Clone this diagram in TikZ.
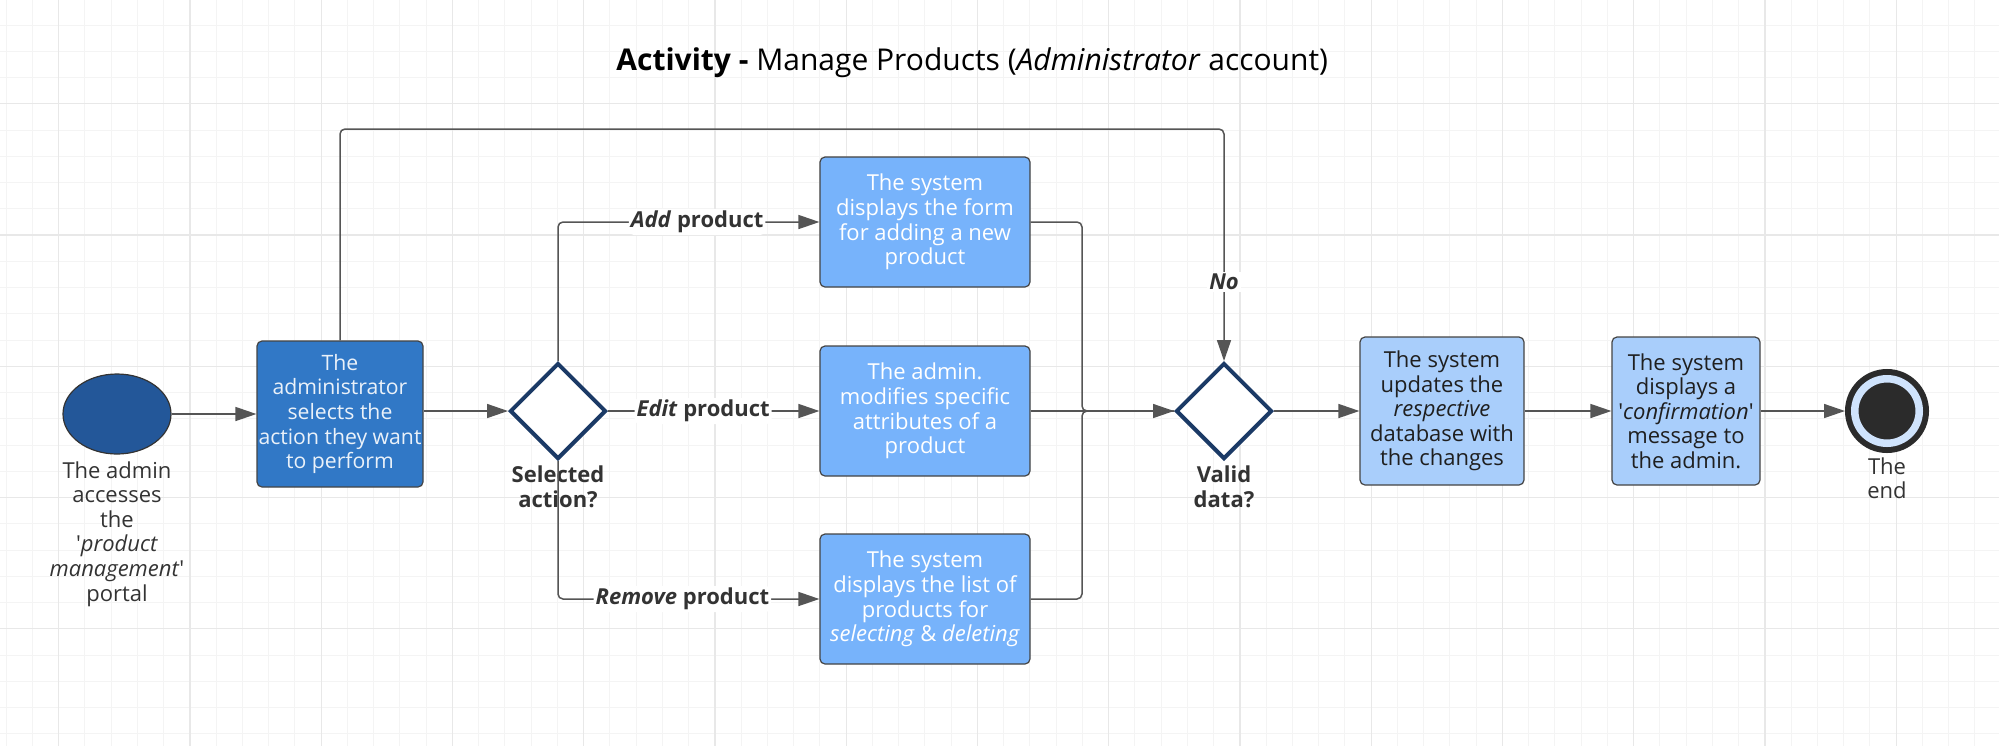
\documentclass[tikz,border=0pt]{standalone}
\usepackage{fontspec}
\setmainfont{Open Sans}
\usetikzlibrary{shapes.geometric,arrows.meta}

\definecolor{startblue}{HTML}{235799}
\definecolor{actblue}{HTML}{3178C6}
\definecolor{optblue}{HTML}{77B3FB}
\definecolor{paleblue}{HTML}{A9CEFB}
\definecolor{navy}{HTML}{1B3A66}
\definecolor{linegray}{HTML}{555555}
\definecolor{boxgray}{HTML}{444444}
\definecolor{textgray}{HTML}{333333}
\definecolor{endgray}{HTML}{2B2B2B}
\definecolor{endring}{HTML}{CFE3FC}
\definecolor{gridminor}{HTML}{F4F4F4}
\definecolor{gridmajor}{HTML}{E8E8E8}

\begin{document}
\begin{tikzpicture}[x=0.5pt,y=-0.5pt,
  every node/.style={font=\fontsize{11}{12.3}\selectfont},
  taskbox/.style={draw=boxgray, line width=0.6pt, rounded corners=2.5pt, align=center, inner xsep=0pt, inner ysep=1pt},
  actbox/.style={taskbox, fill=actblue, text=white!90!actblue, minimum width=83pt, minimum height=73pt,
    font=\fontsize{10.6}{12.3}\selectfont},
  optbox/.style={taskbox, fill=optblue, text=white, minimum width=105pt, minimum height=65pt},
  donebox/.style={taskbox, fill=paleblue, text=black!88, minimum height=74pt},
  startnode/.style={ellipse, fill=startblue, draw=textgray, line width=0.6pt, minimum width=54pt, minimum height=40pt},
  decision/.style={diamond, draw=navy, line width=2pt, fill=white, minimum size=48pt, inner sep=0pt},
  endnode/.style={circle, fill=endgray, draw=endgray, line width=3pt, double=endring, double distance=3.75pt,
    minimum size=32.25pt, inner sep=0pt, outer sep=4.875pt},
  textlbl/.style={align=center, text=textgray, inner sep=0pt},
  boldlbl/.style={textlbl, font=\fontsize{11}{12.8}\selectfont\bfseries},
  lbl/.style={fill=white, text=textgray, inner sep=1pt, font=\fontsize{11}{12}\selectfont\bfseries},
  line/.style={draw=linegray, line width=0.75pt, rounded corners=2.5pt},
  flow/.style={line, -{Triangle[length=10.5pt,width=7pt]}}]

% background and grid
\fill[white] (0,0) rectangle (1999,746);
\useasboundingbox (0,0) rectangle (1999,746);
\foreach \k in {0,...,75}
  \draw[gridminor, line width=0.5pt] (6.2+26.25*\k,0) -- (6.2+26.25*\k,746);
\foreach \k in {0,...,27}
  \draw[gridminor, line width=0.5pt] (0,25+26.25*\k) -- (1999,25+26.25*\k);
\foreach \k in {0,...,14}
  \draw[gridmajor, line width=0.6pt] (58.7+131.25*\k,0) -- (58.7+131.25*\k,746);
\foreach \k in {0,...,4}
  \draw[gridmajor, line width=0.6pt] (0,103.7+131.25*\k) -- (1999,103.7+131.25*\k);

% title
\node[anchor=base west, inner sep=0pt, font=\fontsize{15}{17}\selectfont] (title) at (616,70)
  {\textbf{Activity -} Manage Products (\textit{Administrator} account)};

% nodes
\node[startnode] (start) at (117,414) {};
\node[textlbl, anchor=north] (startlbl) at (117,461)
  {The admin\\accesses\\the\\\textquotesingle\textit{product}\\\textit{management}\textquotesingle\\portal};
\node[actbox] (act) at (340,414) {The\\administrator\\selects the\\action they want\\to perform};
\node[decision] (sel) at (558,411) {};
\node[boldlbl, anchor=north] (sellbl) at (558,465) {Selected\\action?};
\node[optbox] (add) at (925,222) {The system\\displays the form\\for adding a new\\product};
\node[optbox] (edit) at (925,411) {The admin.\\modifies specific\\attributes of a\\product};
\node[optbox] (rem) at (925,599) {The system\\displays the list of\\products for\\\textit{selecting} \& \textit{deleting}};
\node[decision] (val) at (1224,411) {};
\node[boldlbl, anchor=north] (vallbl) at (1224,465) {Valid\\data?};
\node[donebox, minimum width=82pt] (upd) at (1442,411)
  {The system\\updates the\\\textit{respective}\\database with\\the changes};
\node[donebox, minimum width=74pt] (conf) at (1686,411)
  {The system\\displays a\\\textquotesingle\textit{confirmation}\textquotesingle\\message to\\the admin.};
\node[endnode] (fin) at (1887,411) {};
\node[textlbl, anchor=north] (finlbl) at (1887,457) {The\\end};

% connectors
\coordinate (looptop) at (340,129);
\coordinate (merge) at (1082,411);
\draw[flow] (start) -- (act);
\draw[flow] (act.east |- sel.west) -- (sel.west);
\draw[flow] (act.north) -- (looptop) -| (val.north);
\node[lbl] (no) at (1224,282) {\textit{No}};
\draw[flow] (sel.north) |- (add.west) node[lbl, pos=0.766] {\textit{Add} product};
\draw[flow] (sel.east) -- (edit.west) node[lbl, pos=0.45] {\textit{Edit} product};
\draw[flow] (sel.south) |- (rem.west) node[lbl, pos=0.738] {\textit{Remove} product};
\draw[line] (add.east) -| (merge) -- (val.west);
\draw[line] (rem.east) -| (merge) -- (val.west);
\draw[flow] (edit.east) -- (val.west);
\draw[flow] (val.east) -- (upd.west);
\draw[flow] (upd.east) -- (conf.west);
\draw[flow] (conf.east) -- (fin.west);
\end{tikzpicture}
\end{document}
